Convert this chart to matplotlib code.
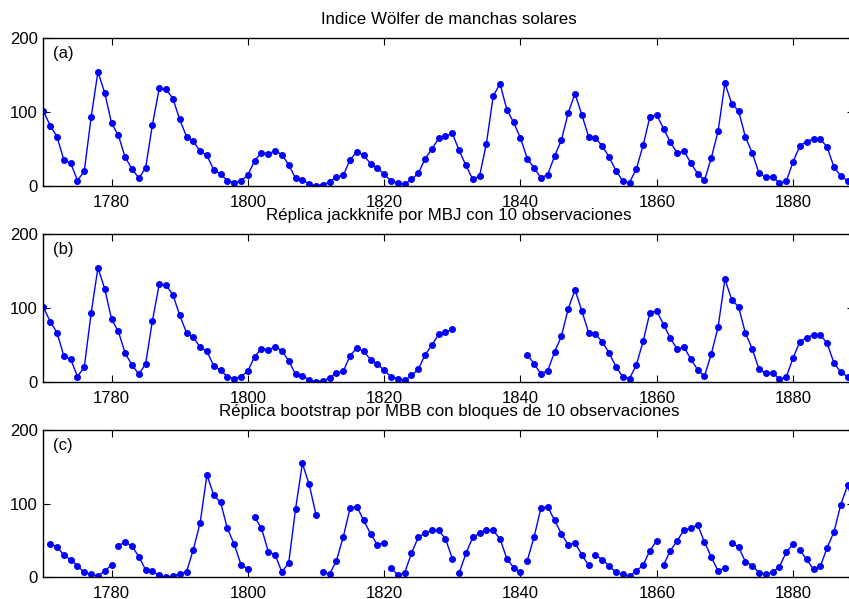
import matplotlib
matplotlib.use('Agg')
import matplotlib.pyplot as plt
import numpy as np

# indice Wolfer anual 1770-1889
anios = np.arange(1770, 1890)
wolfer = [100.8, 81.6, 66.5, 34.8, 30.6, 7.0, 19.8, 92.5, 154.4, 125.9,
          84.8, 68.1, 38.5, 22.8, 10.2, 24.1, 82.9, 132.0, 130.9, 118.1,
          89.9, 66.6, 60.0, 46.9, 41.0, 21.3, 16.0, 6.4, 4.1, 6.8,
          14.5, 34.0, 45.0, 43.1, 47.5, 42.2, 28.1, 10.1, 8.1, 2.5,
          0.0, 1.4, 5.0, 12.2, 13.9, 35.4, 45.8, 41.1, 30.1, 23.9,
          15.6, 6.6, 4.0, 1.8, 8.5, 16.6, 36.3, 49.6, 64.2, 67.0,
          70.9, 47.8, 27.5, 8.5, 13.2, 56.9, 121.5, 138.3, 103.2, 85.7,
          64.6, 36.7, 24.2, 10.7, 15.0, 40.1, 61.5, 98.5, 124.7, 96.3,
          66.6, 64.5, 54.1, 39.0, 20.6, 6.7, 4.3, 22.7, 54.8, 93.8,
          95.8, 77.2, 59.1, 44.0, 47.0, 30.5, 16.3, 7.3, 37.6, 74.0,
          139.0, 111.2, 101.6, 66.2, 44.7, 17.0, 11.3, 12.4, 3.4, 6.0,
          32.3, 54.3, 59.7, 63.7, 63.5, 52.2, 25.4, 13.1, 6.8, 6.3]

# replica jackknife: se quita el bloque 1831-1840
inicio_jack = 1831
largo = 10

# replica bootstrap MBB: anio de inicio de cada bloque remuestreado
inicios_mbb = [1816, 1803, 1867, 1771, 1855, 1877, 1879, 1857, 1818, 1825, 1793, 1841]
anio0_mbb = 1771
unidos = [1]   # el bloque 2 sale pegado al 3 en la figura

titulos = ['Indice Wölfer de manchas solares',
           'Réplica jackknife por MBJ con 10 observaciones',
           'Réplica bootstrap por MBB con bloques de 10 observaciones']
letras = ['(a)', '(b)', '(c)']

wolfer = np.array(wolfer)

jack = wolfer.copy()
jack[(anios >= inicio_jack) & (anios < inicio_jack + largo)] = np.nan

xb, yb = [], []
for k, ini in enumerate(inicios_mbb):
    i = ini - anios[0]
    xb += list(anio0_mbb + k * largo + np.arange(largo))
    yb += list(wolfer[i:i + largo])
    if k not in unidos:
        xb.append(np.nan)
        yb.append(np.nan)

series = [(anios, wolfer), (anios, jack), (np.array(xb, float), np.array(yb))]

plt.rcParams['font.family'] = ['Liberation Sans', 'DejaVu Sans']
plt.rcParams['font.size'] = 12

fig = plt.figure(figsize=(8.49, 5.99), dpi=100)
W, H = 849.0, 599.0
izq, ancho, alto = 43.4, 811.0, 147.5
abajos = [185.7, 381.7, 577.3]

for n in range(3):
    ax = fig.add_axes([izq / W, 1 - abajos[n] / H, ancho / W, alto / H])
    x, y = series[n]
    ax.plot(x, y, '-', color='#0000ff', lw=1.0, marker='o', ms=4.0)
    ax.set_xlim(1770, 1889)
    ax.set_ylim(0, 200)
    ax.set_xticks([1780, 1800, 1820, 1840, 1860, 1880])
    ax.set_yticks([0, 100, 200])
    ax.tick_params(direction='in', top=True, right=True, length=5, width=0.8)
    ax.tick_params(axis='x', pad=6.5)
    ax.tick_params(axis='y', pad=4)
    for s in ax.spines.values():
        s.set_linewidth(1.0)
    ax.set_title(titulos[n], pad=10, fontsize=12.2)
    ax.text(0.012, 0.893, letras[n], transform=ax.transAxes, va='center')

fig.savefig('out.png', dpi=100)
